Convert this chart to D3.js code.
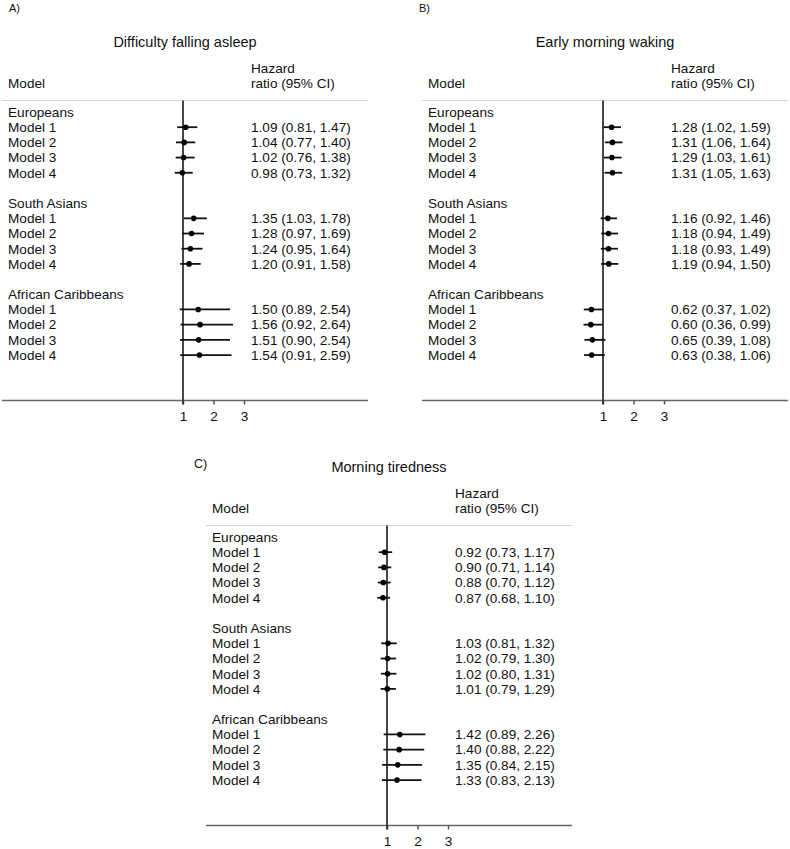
<!DOCTYPE html>
<html>
<head>
<meta charset="utf-8">
<script src="https://cdn.jsdelivr.net/npm/d3@7"></script>
<style>
  body { margin: 0; background: #fff; }
  text { font-family: "Liberation Sans", Arial, sans-serif; fill: #111; }
</style>
</head>
<body>
<svg id="chart" width="790" height="849"></svg>
<script>
// Row labels
const groups = ["Europeans", "South Asians", "African Caribbeans"];
const models = ["Model 1", "Model 2", "Model 3", "Model 4"];
const tickValues = [1, 2, 3];

// Panel A: Difficulty falling asleep (per group, Model 1..4)
const asleepHR = [1.09, 1.04, 1.02, 0.98, 1.35, 1.28, 1.24, 1.20, 1.50, 1.56, 1.51, 1.54];
const asleepLo = [0.81, 0.77, 0.76, 0.73, 1.03, 0.97, 0.95, 0.91, 0.89, 0.92, 0.90, 0.91];
const asleepHi = [1.47, 1.40, 1.38, 1.32, 1.78, 1.69, 1.64, 1.58, 2.54, 2.64, 2.54, 2.59];

// Panel B: Early morning waking
const wakingHR = [1.28, 1.31, 1.29, 1.31, 1.16, 1.18, 1.18, 1.19, 0.62, 0.60, 0.65, 0.63];
const wakingLo = [1.02, 1.06, 1.03, 1.05, 0.92, 0.94, 0.93, 0.94, 0.37, 0.36, 0.39, 0.38];
const wakingHi = [1.59, 1.64, 1.61, 1.63, 1.46, 1.49, 1.49, 1.50, 1.02, 0.99, 1.08, 1.06];

// Panel C: Morning tiredness
const tiredHR = [0.92, 0.90, 0.88, 0.87, 1.03, 1.02, 1.02, 1.01, 1.42, 1.40, 1.35, 1.33];
const tiredLo = [0.73, 0.71, 0.70, 0.68, 0.81, 0.79, 0.80, 0.79, 0.89, 0.88, 0.84, 0.83];
const tiredHi = [1.17, 1.14, 1.12, 1.10, 1.32, 1.30, 1.31, 1.29, 2.26, 2.22, 2.15, 2.13];

const fmt = d3.format(".2f");
const fontSize = 13.6;

// panel layout (relative to panel origin)
const panel = {
  left: 2, right: 368, labelX: 8, textX: 251,
  sepY: 100.5, axisY: 400.5, firstRow: 112, rowStep: 15.19
};

const svg = d3.select("#chart");

function drawPanel(ox, oy, title, hr, lo, hi) {
  const g = svg.append("g").attr("transform", `translate(${ox},${oy})`);

  const x = d3.scaleLinear().domain([1, 2]).range([183, 213.5]);

  // row index: header at g*6, models at g*6+1..4
  const rowY = d3.scaleLinear().domain([0, 1]).range([panel.firstRow, panel.firstRow + panel.rowStep]);

  const rows = [];
  groups.forEach((grp, gi) => {
    models.forEach((m, mi) => {
      const k = gi * 4 + mi;
      rows.push({ label: m, row: gi * 6 + 1 + mi, hr: hr[k], lo: lo[k], hi: hi[k] });
    });
  });

  g.append("text")
    .attr("x", 185).attr("y", 47)
    .attr("text-anchor", "middle")
    .attr("font-size", 14.5)
    .text(title);

  g.append("text").attr("x", panel.labelX).attr("y", 88).attr("font-size", fontSize).text("Model");
  g.append("text").attr("x", panel.textX).attr("y", 73).attr("font-size", fontSize).text("Hazard");
  g.append("text").attr("x", panel.textX).attr("y", 88).attr("font-size", fontSize).text("ratio (95% CI)");

  // separator
  g.append("line")
    .attr("x1", panel.left).attr("x2", panel.right)
    .attr("y1", panel.sepY).attr("y2", panel.sepY)
    .attr("stroke", "#d4d4d4").attr("stroke-width", 1.2);

  // bottom axis line
  g.append("line")
    .attr("x1", panel.left).attr("x2", panel.right)
    .attr("y1", panel.axisY).attr("y2", panel.axisY)
    .attr("stroke", "#666").attr("stroke-width", 1.5);

  // ticks
  const axis = g.append("g")
    .attr("transform", `translate(0,${panel.axisY})`)
    .call(d3.axisBottom(x).tickValues(tickValues).tickSize(4).tickFormat(d3.format("d")));
  axis.select(".domain").remove();
  axis.selectAll(".tick line").attr("stroke", "#555").attr("stroke-width", 1.5);
  axis.selectAll(".tick text")
    .attr("font-size", fontSize)
    .attr("font-family", "Liberation Sans, Arial, sans-serif")
    .attr("fill", "#111")
    .attr("dy", "1.02em");

  // null line
  g.append("line")
    .attr("x1", x(1)).attr("x2", x(1))
    .attr("y1", panel.sepY).attr("y2", panel.axisY + 4)
    .attr("stroke", "#333").attr("stroke-width", 1.8);

  // group headers
  g.selectAll(".grp")
    .data(groups)
    .enter()
    .append("text")
    .attr("x", panel.labelX)
    .attr("y", (d, i) => rowY(i * 6) + 4.8)
    .attr("font-size", fontSize)
    .text(d => d);

  // model labels
  g.selectAll(".lab")
    .data(rows)
    .enter()
    .append("text")
    .attr("x", panel.labelX)
    .attr("y", d => rowY(d.row) + 4.8)
    .attr("font-size", fontSize)
    .text(d => d.label);

  // CI lines
  g.selectAll(".ci")
    .data(rows)
    .enter()
    .append("line")
    .attr("x1", d => x(d.lo)).attr("x2", d => x(d.hi))
    .attr("y1", d => rowY(d.row)).attr("y2", d => rowY(d.row))
    .attr("stroke", "#111").attr("stroke-width", 1.8);

  // estimates
  g.selectAll(".pt")
    .data(rows)
    .enter()
    .append("circle")
    .attr("cx", d => x(d.hr))
    .attr("cy", d => rowY(d.row))
    .attr("r", 2.8)
    .attr("fill", "#000");

  // HR text
  g.selectAll(".hrt")
    .data(rows)
    .enter()
    .append("text")
    .attr("x", panel.textX)
    .attr("y", d => rowY(d.row) + 4.8)
    .attr("font-size", fontSize)
    .text(d => `${fmt(d.hr)} (${fmt(d.lo)}, ${fmt(d.hi)})`);
}

drawPanel(0, 0, "Difficulty falling asleep", asleepHR, asleepLo, asleepHi);
drawPanel(420, 0, "Early morning waking", wakingHR, wakingLo, wakingHi);
drawPanel(204, 425, "Morning tiredness", tiredHR, tiredLo, tiredHi);

// panel letters
svg.append("text").attr("x", 9).attr("y", 12).attr("font-size", 11).text("A)");
svg.append("text").attr("x", 419).attr("y", 12).attr("font-size", 11).text("B)");
svg.append("text").attr("x", 194).attr("y", 468).attr("font-size", 12.5).text("C)");
</script>
</body>
</html>
